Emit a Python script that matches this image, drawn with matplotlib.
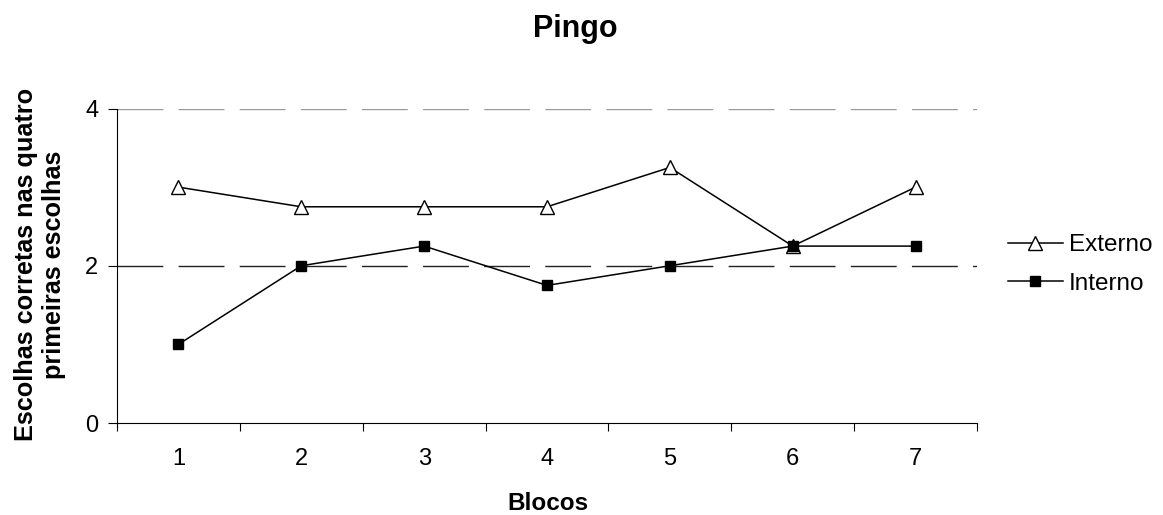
import matplotlib.pyplot as plt

plt.rcParams['font.family'] = ['Liberation Sans', 'DejaVu Sans']

# Blocos 1..7, mean correct choices in the first four choices
blocos = [1, 2, 3, 4, 5, 6, 7]
externo = [3.0, 2.75, 2.75, 2.75, 3.25, 2.25, 3.0]
interno = [1.0, 2.0, 2.25, 1.75, 2.0, 2.25, 2.25]
yticks = [0, 2, 4]

W, H = 1163, 515
fig = plt.figure(figsize=(W / 100, H / 100), dpi=100)
ax = fig.add_axes([117 / W, 1 - 423 / H, 860 / W, 314.5 / H])

ax.plot(blocos, externo, color='black', lw=1.1, marker='^', ms=9.5,
        mfc='white', mec='black', mew=1.0, label='Externo', zorder=3)
ax.plot(blocos, interno, color='black', lw=1.1, marker='s', ms=7.8,
        mfc='black', mec='black', label='Interno', zorder=3)

ax.set_xlim(0.5, 7.5)
ax.set_ylim(0, 4)
ax.set_yticks(yticks)
ax.set_xticks(blocos)
ax.set_xticks([b + 0.5 for b in [0] + blocos], minor=True)
ax.tick_params(axis='x', which='major', length=0, pad=18, labelsize=17)
ax.tick_params(axis='x', which='minor', length=5.5, width=0.8, direction='out')
ax.tick_params(axis='y', length=6.5, width=0.8, pad=7, labelsize=17)

# dashed gridlines at 2 and 4
for yv, col in [(2, '#222222'), (4, '#999999')]:
    ax.axhline(yv, color=col, lw=1.0, dashes=(33, 11), zorder=1)

for s in ['top', 'right']:
    ax.spines[s].set_visible(False)
for s in ['left', 'bottom']:
    ax.spines[s].set_linewidth(0.8)

fig.text(575 / W, 1 - 37 / H, 'Pingo', ha='center', va='baseline',
         fontsize=22, fontweight='bold')
fig.text(548 / W, 1 - 510 / H, 'Blocos', ha='center', va='baseline',
         fontsize=17.5, fontweight='bold')
fig.text(40 / W, 1 - 264.5 / H,
         'Escolhas corretas nas quatro\nprimeiras escolhas',
         ha='center', va='center', rotation=90, fontsize=18.2,
         fontweight='bold', linespacing=1.2)

ax.legend(loc='center left', bbox_to_anchor=(1008 / W, 1 - 264.5 / H),
          bbox_transform=fig.transFigure, frameon=False, fontsize=17.5,
          handlelength=2.25, handletextpad=0.25, labelspacing=0.67,
          borderpad=0, borderaxespad=0)

fig.savefig('out.png', dpi=100)
